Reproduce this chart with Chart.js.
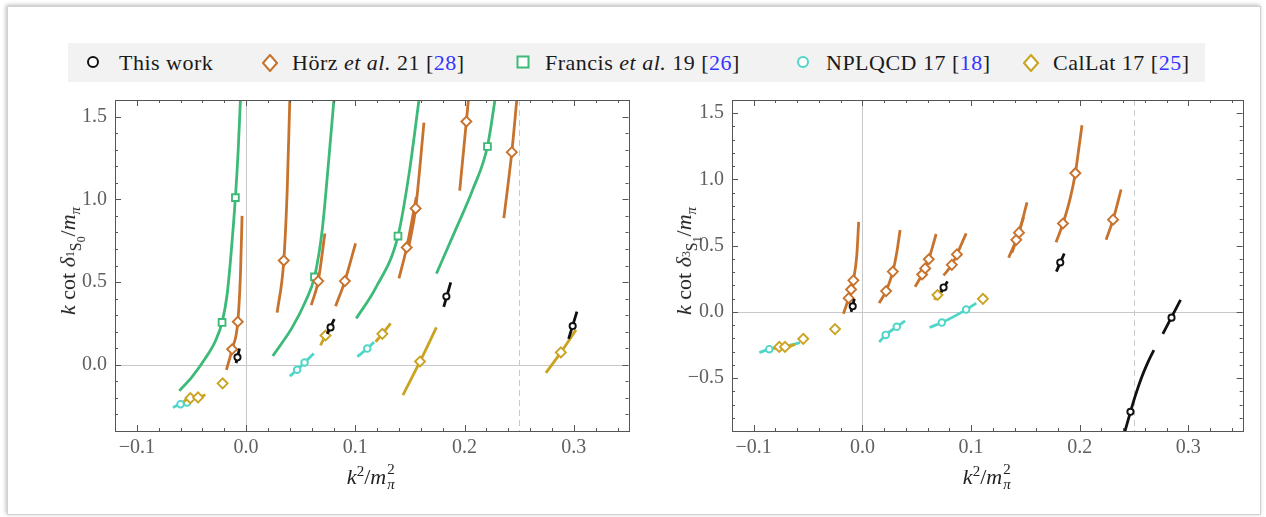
<!DOCTYPE html>
<html>
<head>
<meta charset="utf-8">
<script src="https://cdn.jsdelivr.net/npm/chart.js@4.4.1/dist/chart.umd.min.js"></script>
<style>
body{margin:0;width:1266px;height:517px;position:relative;overflow:hidden;background:#fff;font-family:'Liberation Serif',serif;}
#frame{position:absolute;left:7px;top:6px;width:1252px;height:507px;border:1px solid #d2d2d2;box-shadow:-1px -1px 4px rgba(0,0,0,.28);background:#fff}
#legend{position:absolute;left:68px;top:43px;width:1137px;height:39px;background:#f2f2f2}
.mk{position:absolute;top:11px}
.lt{position:absolute;top:0;line-height:39px;font-size:22px;letter-spacing:.5px;color:#1a1a1a;white-space:nowrap}
.cite{color:#3434ff}
canvas{position:absolute}
.ttl{position:absolute;font-size:22px;color:#222;white-space:nowrap;transform:translate(-50%,-50%)}
.rot{transform:translate(-50%,-50%) rotate(-90deg)}
.st{display:inline-block;position:relative;width:11px;height:22px}
.st span{position:absolute;left:1px;font-size:15px;line-height:15px}
.st .up{top:0px}
.st .dn{top:15px}
</style>
</head>
<body>
<div id="frame"></div>
<div id="legend">
  <svg class="mk" style="left:17px" width="16" height="16"><circle cx="8" cy="8" r="5" fill="#fff" stroke="#111" stroke-width="2"/></svg>
  <span class="lt" style="left:51px">This work</span>
  <svg class="mk" style="left:194px;top:11px" width="16" height="18"><path d="M8 1 L15 9 L8 17 L1 9 Z" fill="#fff" stroke="#c8732d" stroke-width="2"/></svg>
  <span class="lt" style="left:224px">Hörz <i>et al.</i> 21 [<span class="cite">28</span>]</span>
  <svg class="mk" style="left:447px" width="16" height="16"><rect x="2.5" y="2.5" width="11" height="11" fill="#fff" stroke="#3dba78" stroke-width="2"/></svg>
  <span class="lt" style="left:477px">Francis <i>et al.</i> 19 [<span class="cite">26</span>]</span>
  <svg class="mk" style="left:727px" width="16" height="16"><circle cx="8" cy="8" r="5" fill="#fff" stroke="#4fd6c8" stroke-width="2"/></svg>
  <span class="lt" style="left:758px">NPLQCD 17 [<span class="cite">18</span>]</span>
  <svg class="mk" style="left:955px;top:11px" width="16" height="18"><path d="M8 1 L15 9 L8 17 L1 9 Z" fill="#fff" stroke="#cba322" stroke-width="2"/></svg>
  <span class="lt" style="left:985px">CalLat 17 [<span class="cite">25</span>]</span>
</div>
<canvas id="cS0" width="625" height="400" style="left:20px;top:80px"></canvas>
<canvas id="cS1" width="620" height="400" style="left:640px;top:80px"></canvas>
<div class="ttl rot" style="left:72px;top:261px"><i>k</i> cot <i>δ</i><span style="font-size:.72em;vertical-align:-.4em"><span style="font-size:.75em;vertical-align:.6em">1</span>S<span style="font-size:.75em;vertical-align:-.3em">0</span></span>/<i>m</i><span style="font-size:.68em;vertical-align:-.35em"><i>π</i></span></div>
<div class="ttl rot" style="left:688px;top:261px"><i>k</i> cot <i>δ</i><span style="font-size:.72em;vertical-align:-.4em"><span style="font-size:.75em;vertical-align:.6em">3</span>S<span style="font-size:.75em;vertical-align:-.3em">1</span></span>/<i>m</i><span style="font-size:.68em;vertical-align:-.35em"><i>π</i></span></div>
<div class="ttl" style="left:372px;top:476px"><i>k</i><sup style="font-size:15px">2</sup>/<i>m</i><span class="st"><span class="up">2</span><span class="dn"><i>π</i></span></span></div>
<div class="ttl" style="left:988px;top:476px"><i>k</i><sup style="font-size:15px">2</sup>/<i>m</i><span class="st"><span class="up">2</span><span class="dn"><i>π</i></span></span></div>
<script>
// axis ticks
const xTicks = [-0.1, 0, 0.1, 0.2, 0.3];
const xTickLabels = ['\u22120.1', '0.0', '0.1', '0.2', '0.3'];
const yTicksS0 = [0, 0.5, 1.0, 1.5];
const yTickLabelsS0 = ['0.0', '0.5', '1.0', '1.5'];
const yTicksS1 = [-0.5, 0, 0.5, 1.0, 1.5];
const yTickLabelsS1 = ['\u22120.5', '0.0', '0.5', '1.0', '1.5'];
const thresholdK = 0.25;

// 1S0 panel: [k^2/m^2, k cot delta / m]
const thisWorkS0Curves = [
  [[-0.0092, 0.010], [-0.0061, 0.098]],
  [[0.0742, 0.187], [0.0807, 0.276]],
  [[0.1809, 0.350], [0.1873, 0.498]],
  [[0.2952, 0.157], [0.3028, 0.321]]
];
const thisWorkS0Points = [[-0.0079, 0.045], [0.0773, 0.226], [0.1833, 0.413], [0.2989, 0.234]];

const horzS0Curves = [
  [[-0.0180, -0.030], [-0.0128, 0.094], [-0.0076, 0.260], [-0.0052, 0.541], [-0.0037, 0.900]],
  [[0.0284, 0.315], [0.0345, 0.630], [0.0376, 1.053], [0.0400, 1.604]],
  [[0.0596, 0.360], [0.0660, 0.506], [0.0721, 0.793]],
  [[0.0819, 0.354], [0.0904, 0.506], [0.1002, 0.734]],
  [[0.1399, 0.522], [0.1470, 0.709], [0.1558, 1.014]],
  [[0.1485, 0.699], [0.1552, 0.945], [0.1628, 1.463]],
  [[0.1955, 1.053], [0.2016, 1.470], [0.2035, 1.604]],
  [[0.2359, 0.886], [0.2432, 1.285], [0.2478, 1.604]]
];
const horzS0Points = [[-0.0128, 0.094], [-0.0076, 0.260], [0.0345, 0.630], [0.0660, 0.506], [0.0904, 0.506],
  [0.1470, 0.709], [0.1552, 0.945], [0.2016, 1.470], [0.2432, 1.285]];

const francisS0Curves = [
  [[-0.0611, -0.157], [-0.0495, -0.073], [-0.0373, 0.039], [-0.0281, 0.144], [-0.0220, 0.256], [-0.0174, 0.423],
   [-0.0134, 0.699], [-0.0098, 1.010], [-0.0073, 1.289], [-0.0052, 1.604]],
  [[0.0244, 0.053], [0.0422, 0.226], [0.0544, 0.384], [0.0626, 0.531], [0.0697, 0.817], [0.0758, 1.250], [0.0804, 1.604]],
  [[0.1008, 0.280], [0.1185, 0.463], [0.1390, 0.778], [0.1491, 1.152], [0.1583, 1.604]],
  [[0.1742, 0.551], [0.1918, 0.817], [0.2071, 1.053], [0.2209, 1.319], [0.2279, 1.604]]
];
const francisS0Points = [[-0.0220, 0.256], [-0.0098, 1.010], [0.0626, 0.531], [0.1390, 0.778], [0.2209, 1.319]];

const nplqcdS0Curves = [
  [[-0.067, -0.258], [-0.060, -0.238], [-0.054, -0.228], [-0.045, -0.195]],
  [[0.0400, -0.069], [0.0467, -0.030], [0.0535, 0.014], [0.0620, 0.069]],
  [[0.1018, 0.049], [0.1109, 0.098], [0.1171, 0.138]]
];
const nplqcdS0Points = [[-0.060, -0.238], [-0.054, -0.228], [0.0467, -0.030], [0.0535, 0.014], [0.1109, 0.098]];

const callatS0Curves = [
  [[-0.0571, -0.221], [-0.0510, -0.201], [-0.0440, -0.197], [-0.0372, -0.181]],
  [[0.0681, 0.118], [0.0727, 0.177], [0.0764, 0.211]],
  [[0.1185, 0.138], [0.1247, 0.187], [0.1323, 0.250]],
  [[0.1436, -0.183], [0.1592, 0.020], [0.1742, 0.226]],
  [[0.2744, -0.049], [0.2881, 0.075], [0.3019, 0.211]]
];
const callatS0Points = [[-0.0510, -0.201], [-0.0440, -0.197], [-0.0215, -0.112], [0.0727, 0.177],
  [0.1247, 0.187], [0.1592, 0.020], [0.2881, 0.075]];

// 3S1 panel
const thisWorkS1Curves = [
  [[-0.0104, 0.000], [-0.0074, 0.098]],
  [[0.0725, 0.147], [0.0783, 0.230]],
  [[0.1785, 0.304], [0.1858, 0.441]],
  [[0.2765, -0.167], [0.2928, 0.091]],
  [[0.2412, -0.914], [0.2467, -0.755], [0.2515, -0.625], [0.2565, -0.505], [0.2620, -0.395], [0.2682, -0.289]]
];
const thisWorkS1Points = [[-0.0089, 0.042], [0.0747, 0.184], [0.1821, 0.373], [0.2845, -0.044], [0.2467, -0.755]];

const horzS1Curves = [
  [[-0.0175, -0.015], [-0.0126, 0.103], [-0.0104, 0.169], [-0.0083, 0.238], [-0.0052, 0.422], [-0.0034, 0.679]],
  [[0.0154, 0.066], [0.0218, 0.157], [0.0280, 0.304], [0.0316, 0.446], [0.0347, 0.618]],
  [[0.0485, 0.189], [0.0550, 0.282], [0.0578, 0.328], [0.0611, 0.397], [0.0679, 0.588]],
  [[0.0747, 0.275], [0.0823, 0.355], [0.0870, 0.434], [0.0955, 0.593]],
  [[0.1346, 0.409], [0.1416, 0.544], [0.1484, 0.716]],
  [[0.1376, 0.446], [0.1441, 0.598], [0.1515, 0.826]],
  [[0.1782, 0.525], [0.1846, 0.667], [0.1914, 0.863], [0.1960, 1.047], [0.1991, 1.230], [0.2021, 1.409]],
  [[0.2243, 0.544], [0.2307, 0.696], [0.2381, 0.924]]
];
const horzS1Points = [[-0.0126, 0.103], [-0.0104, 0.169], [-0.0083, 0.238], [0.0218, 0.157], [0.0280, 0.304],
  [0.0550, 0.282], [0.0578, 0.328], [0.0611, 0.397], [0.0823, 0.355], [0.0870, 0.434], [0.1416, 0.544],
  [0.1441, 0.598], [0.1846, 0.667], [0.1960, 1.047], [0.2307, 0.696]];

const nplqcdS1Curves = [
  [[-0.0949, -0.307], [-0.0857, -0.282], [-0.0700, -0.258], [-0.0574, -0.233]],
  [[0.0154, -0.228], [0.0215, -0.174], [0.0316, -0.113], [0.0393, -0.069]],
  [[0.0618, -0.118], [0.0731, -0.081], [0.0955, 0.017], [0.1048, 0.066]]
];
const nplqcdS1Points = [[-0.0857, -0.282], [0.0215, -0.174], [0.0316, -0.113], [0.0731, -0.081], [0.0955, 0.017]];

const callatS1Curves = [
  [[-0.082, -0.277], [-0.0765, -0.265], [-0.0712, -0.265], [-0.062, -0.248]],
  [[-0.058, -0.220], [-0.0544, -0.204], [-0.051, -0.190]],
  [[0.0661, 0.091], [0.0691, 0.127], [0.0722, 0.164]],
  [[0.1078, 0.078], [0.1109, 0.098], [0.1140, 0.123]]
];
const callatS1Points = [[-0.0765, -0.265], [-0.0712, -0.265], [-0.0544, -0.204], [-0.0252, -0.130],
  [0.0691, 0.127], [0.1109, 0.098]];

const colors = { work: '#111111', horz: '#c8732d', francis: '#3dba78', nplqcd: '#4fd6c8', callat: '#cba322' };
const tickFont = { family: 'Liberation Serif', size: 20 };

function toXY(arr) { return arr.map(p => ({ x: p[0], y: p[1] })); }

function seriesSets(curves, points, color, style, radius, order) {
  const sets = curves.map(c => ({
    data: toXY(c), showLine: true, borderColor: color, borderWidth: 2.8,
    pointRadius: 0, cubicInterpolationMode: 'monotone', clip: 0, order: order + 1
  }));
  sets.push({
    data: toXY(points), showLine: false, pointStyle: style, pointRadius: radius,
    pointBackgroundColor: '#fff', pointBorderColor: color, pointBorderWidth: 1.9, clip: 0, order: order
  });
  return sets;
}

// inward ticks on all four sides, frame, zero lines
const frameTicks = {
  id: 'frameTicks',
  beforeDatasetsDraw(chart) {
    const { ctx, chartArea: a, scales: { x, y } } = chart;
    ctx.save();
    ctx.strokeStyle = '#c8c8c8';
    ctx.lineWidth = 1;
    ctx.beginPath();
    const x0 = Math.round(x.getPixelForValue(0)) + 0.5;
    const y0 = Math.round(y.getPixelForValue(0)) + 0.5;
    ctx.moveTo(x0, a.top); ctx.lineTo(x0, a.bottom);
    ctx.moveTo(a.left, y0); ctx.lineTo(a.right, y0);
    ctx.stroke();
    ctx.setLineDash([6, 4]);
    ctx.beginPath();
    const xt = Math.round(x.getPixelForValue(thresholdK)) + 0.5;
    ctx.moveTo(xt, a.top); ctx.lineTo(xt, a.bottom);
    ctx.stroke();
    ctx.restore();
  },
  afterDraw(chart) {
    const { ctx, chartArea: a, scales: { x, y } } = chart;
    ctx.save();
    ctx.strokeStyle = '#555';
    ctx.lineWidth = 1;
    ctx.strokeRect(Math.round(a.left) + 0.5, Math.round(a.top) + 0.5,
      Math.round(a.right - a.left), Math.round(a.bottom - a.top));
    ctx.beginPath();
    for (let i = Math.ceil(x.min / 0.02 - 1e-6); i <= Math.floor(x.max / 0.02 + 1e-6); i++) {
      const px = Math.round(x.getPixelForValue(i * 0.02)) + 0.5;
      const len = i % 5 === 0 ? 6 : 3;
      ctx.moveTo(px, a.bottom); ctx.lineTo(px, a.bottom - len);
      ctx.moveTo(px, a.top); ctx.lineTo(px, a.top + len);
    }
    for (let j = Math.ceil(y.min / 0.1 - 1e-6); j <= Math.floor(y.max / 0.1 + 1e-6); j++) {
      const py = Math.round(y.getPixelForValue(j * 0.1)) + 0.5;
      const len = j % 5 === 0 ? 6 : 3;
      ctx.moveTo(a.left, py); ctx.lineTo(a.left + len, py);
      ctx.moveTo(a.right, py); ctx.lineTo(a.right - len, py);
    }
    ctx.stroke();
    ctx.restore();
  }
};

function makePanel(id, sets, yMin, yTicks, yLabels, yWidth, padRight) {
  return new Chart(document.getElementById(id), {
    type: 'scatter',
    data: { datasets: sets },
    options: {
      responsive: false,
      animation: false,
      layout: { padding: { top: 11, right: padRight, left: 0, bottom: 0 } },
      plugins: { legend: { display: false }, tooltip: { enabled: false } },
      scales: {
        x: {
          type: 'linear', min: -0.12, max: 0.35,
          afterBuildTicks: s => { s.ticks = xTicks.map(v => ({ value: v })); },
          afterFit: s => { s.height = 49; },
          ticks: { callback: (v, i) => xTickLabels[i], font: tickFont, color: '#606060', padding: 5, maxRotation: 0, autoSkip: false },
          grid: { display: false, drawTicks: false },
          border: { display: false }
        },
        y: {
          type: 'linear', min: yMin, max: 1.6,
          afterBuildTicks: s => { s.ticks = yTicks.map(v => ({ value: v })); },
          afterFit: s => { s.width = yWidth; },
          ticks: { callback: (v, i) => yLabels[i], font: tickFont, color: '#606060', padding: 8, autoSkip: false },
          grid: { display: false, drawTicks: false },
          border: { display: false }
        }
      }
    },
    plugins: [frameTicks]
  });
}

makePanel('cS0', [].concat(
  seriesSets(thisWorkS0Curves, thisWorkS0Points, colors.work, 'circle', 3.1, 0),
  seriesSets(callatS0Curves, callatS0Points, colors.callat, 'rectRot', 5, 2),
  seriesSets(nplqcdS0Curves, nplqcdS0Points, colors.nplqcd, 'circle', 3.3, 4),
  seriesSets(horzS0Curves, horzS0Points, colors.horz, 'rectRot', 5, 6),
  seriesSets(francisS0Curves, francisS0Points, colors.francis, 'rect', 4.8, 8)
), -0.4, yTicksS0, yTickLabelsS0, 95, 16.5);

makePanel('cS1', [].concat(
  seriesSets(thisWorkS1Curves, thisWorkS1Points, colors.work, 'circle', 3.1, 0),
  seriesSets(callatS1Curves, callatS1Points, colors.callat, 'rectRot', 5, 2),
  seriesSets(nplqcdS1Curves, nplqcdS1Points, colors.nplqcd, 'circle', 3.3, 4),
  seriesSets(horzS1Curves, horzS1Points, colors.horz, 'rectRot', 5, 6)
), -0.9, yTicksS1, yTickLabelsS1, 92, 17.3);
</script>
</body>
</html>
